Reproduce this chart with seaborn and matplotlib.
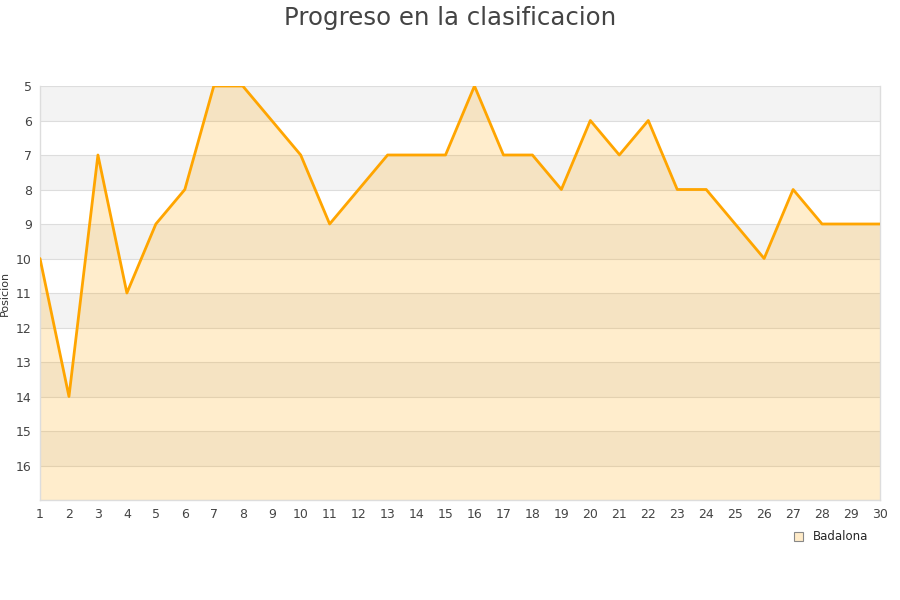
import numpy as np
import matplotlib.pyplot as plt
import seaborn as sns
import pandas as pd
from matplotlib.patches import Patch

jornadas = list(range(1, 31))
posiciones = [10, 14, 7, 11, 9, 8, 5, 5, 6, 7, 9, 8, 7, 7, 7, 5, 7, 7, 8, 6,
              7, 6, 8, 8, 9, 10, 8, 9, 9, 9]
equipo = "Badalona"

df = pd.DataFrame({"Jornada": jornadas, "Posicion": posiciones})

sns.set_style("white")
plt.rcParams['font.family'] = ['DejaVu Sans']

fig = plt.figure(figsize=(9, 6), dpi=100)
ax = fig.add_axes([40 / 900, 100 / 600, 840 / 900, 414 / 600])

y_top, y_bot = 5, 17
# bandas alternas de fondo
for k in range(y_top, y_bot):
    if (k - y_top) % 2 == 0:
        ax.axhspan(k, k + 1, color="#f3f3f3", zorder=0, lw=0)

for k in range(y_top, y_bot + 1):
    ax.axhline(k, color="#dddddd", lw=0.8, zorder=0.5)

ax.fill_between(df["Jornada"], df["Posicion"], y_bot, color="#ffa500", alpha=0.2, lw=0, zorder=1)
sns.lineplot(data=df, x="Jornada", y="Posicion", color="#ffa500", lw=2, ax=ax, zorder=3)

ax.set_xlim(1, 30)
ax.set_ylim(y_bot, y_top)
ax.set_xticks(jornadas)
ax.set_yticks(range(5, 17))
ax.tick_params(axis="both", labelsize=9, colors="#444444", length=0, pad=6)
ax.set_xlabel("")
ax.set_ylabel("Posicion", fontsize=8, color="#333333")
ax.yaxis.set_label_coords(-30 / 840, 0.5)

for side in ["left", "bottom", "right", "top"]:
    ax.spines[side].set_color("#dddddd")
    ax.spines[side].set_linewidth(1)
ax.spines["top"].set_visible(False)

fig.suptitle("Progreso en la clasificacion", fontsize=17.6, color="#444444", y=0.99)

handle = Patch(facecolor="#ffebc8", edgecolor="#888888", lw=0.8, label=equipo)
fig.legend(handles=[handle], loc="center", bbox_to_anchor=(831 / 900, 1 - 537 / 600),
           frameon=False, fontsize=8.5, handlelength=0.8, handleheight=0.8, handletextpad=0.8)

plt.savefig("out.png", dpi=100)
